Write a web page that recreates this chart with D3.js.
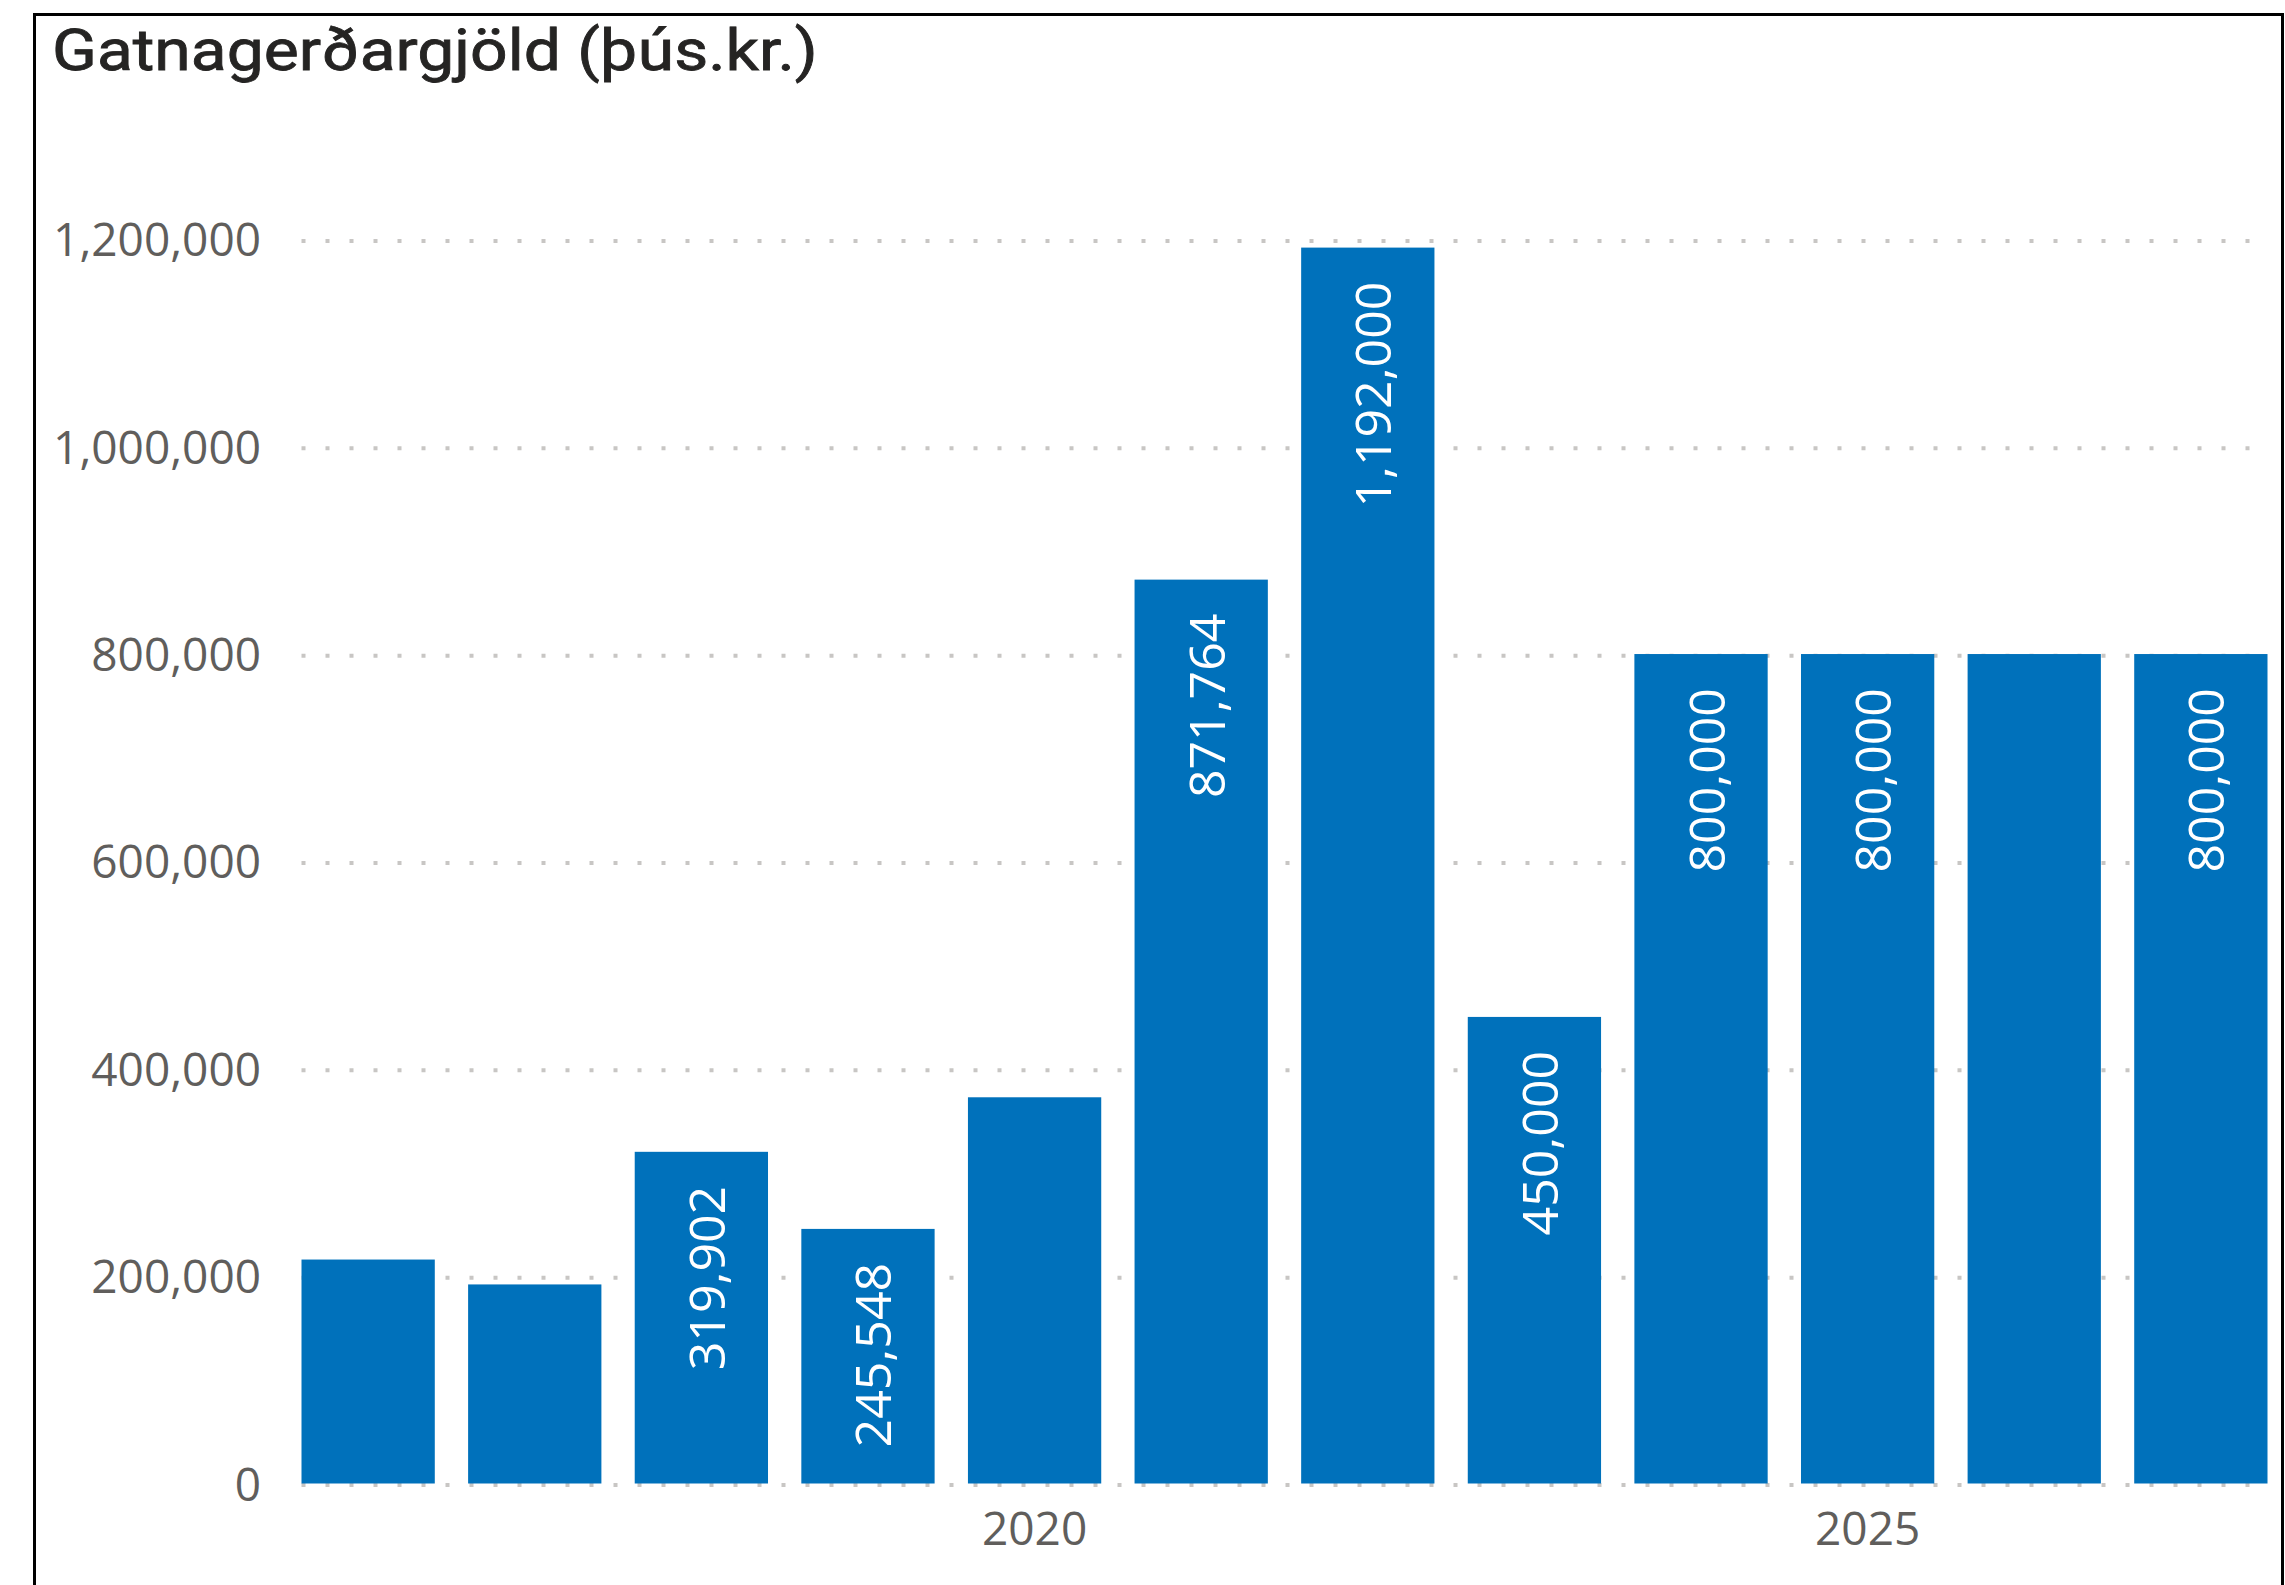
<!DOCTYPE html>
<html>
<head>
<meta charset="utf-8">
<script src="https://cdn.jsdelivr.net/npm/d3@7"></script>
<style>
    body { margin: 0; background: #fff; }
    svg { display: block; }
</style>
</head>
<body>
<div id="chart"></div>
<script>
// Gatnagerðargjöld (þús.kr.) by year
const years = [2016, 2017, 2018, 2019, 2020, 2021, 2022, 2023, 2024, 2025, 2026, 2027];
const values = [216000, 192000, 319902, 245548, 372500, 871764, 1192000, 450000, 800000, 800000, 800000, 800000];
// data labels that are visible in the chart (null = hidden)
const barLabels = [null, null, 319902, 245548, null, 871764, 1192000, 450000, 800000, 800000, null, 800000];
const yTicks = [0, 200000, 400000, 600000, 800000, 1000000, 1200000];
const xTicks = [2020, 2025];
const title = 'Gatnagerðargjöld (þús.kr.)';

const W = 2285, H = 1585;
const barColor = '#0071BB';
const tickFont = '"Open Sans", "Noto Sans", sans-serif';

const svg = d3.select('#chart').append('svg')
    .attr('width', W)
    .attr('height', H);

svg.append('rect')
    .attr('width', W)
    .attr('height', H)
    .attr('fill', '#fff');

// frame (bottom edge falls outside the picture)
svg.append('rect')
    .attr('x', 34.5)
    .attr('y', 14.5)
    .attr('width', 2248)
    .attr('height', 1700)
    .attr('fill', 'none')
    .attr('stroke', '#000')
    .attr('stroke-width', 3);

// title - stretched horizontally to mimic the wider DIN face
const titleText = svg.append('text')
    .attr('x', 0)
    .attr('y', 0)
    .style('font-family', 'Roboto, "DejaVu Sans", sans-serif')
    .style('font-size', '57px')
    .style('font-weight', 400)
    .style('fill', '#252423')
    .style('stroke', '#252423')
    .style('stroke-width', 0.8)
    .text(title);
const natural = titleText.node().getComputedTextLength();
const sx = 766 / natural;
titleText.attr('transform', `translate(52,70) scale(${sx},1)`);

const x = d3.scaleBand()
    .domain(years)
    .range([301.5, 2267.5])
    .paddingInner(0.2)
    .paddingOuter(0);

const y = d3.scaleLinear()
    .domain([0, 1200000])
    .range([1483.5, 239.3]);

// dotted gridlines
svg.append('g')
    .selectAll('line')
    .data(yTicks)
    .join('line')
    .attr('x1', 301.5)
    .attr('x2', 2267.5)
    .attr('y1', d => y(d) + 1.6)
    .attr('y2', d => y(d) + 1.6)
    .attr('stroke', '#C8C6C4')
    .attr('stroke-width', 4)
    .attr('stroke-dasharray', '4,20');

// y axis
const yAxis = svg.append('g')
    .attr('transform', 'translate(261,0)')
    .call(d3.axisLeft(y).tickValues(yTicks).tickSize(0).tickPadding(0).tickFormat(d3.format(',')));
yAxis.select('.domain').remove();
yAxis.selectAll('text')
    .attr('dy', '0.36em')
    .style('font-family', tickFont)
    .style('font-size', '46px')
    .style('fill', '#605E5C');

// x axis
const xAxis = svg.append('g')
    .attr('transform', 'translate(0,1483.5)')
    .call(d3.axisBottom(x).tickValues(xTicks).tickSize(0).tickPadding(29));
xAxis.select('.domain').remove();
xAxis.selectAll('text')
    .style('font-family', tickFont)
    .style('font-size', '46px')
    .style('fill', '#605E5C');

// bars
const data = years.map((yr, i) => ({ year: yr, value: values[i], label: barLabels[i] }));

svg.append('g')
    .selectAll('rect')
    .data(data)
    .join('rect')
    .attr('x', d => x(d.year))
    .attr('y', d => y(d.value))
    .attr('width', x.bandwidth())
    .attr('height', d => y(0) - y(d.value))
    .attr('fill', barColor);

// rotated data labels inside the top of each bar
svg.append('g')
    .selectAll('text')
    .data(data.filter(d => d.label !== null))
    .join('text')
    .attr('transform', d => `translate(${x(d.year) + x.bandwidth() / 2 + 6},${y(d.value) + 34}) rotate(-90)`)
    .attr('dy', '0.35em')
    .attr('text-anchor', 'end')
    .style('font-family', tickFont)
    .style('font-size', '50px')
    .style('fill', '#fff')
    .text(d => d3.format(',')(d.label));
</script>
</body>
</html>
